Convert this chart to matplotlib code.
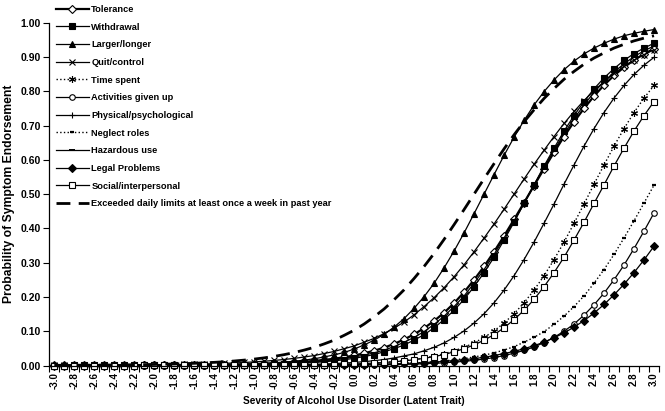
import matplotlib
matplotlib.use("Agg")
import matplotlib.pyplot as plt
from matplotlib.ticker import FixedLocator, FormatStrFormatter

plt.rcParams["font.family"] = ["Liberation Sans", "DejaVu Sans"]
plt.rcParams["font.weight"] = "bold"

# latent trait categories (-3.0 .. 3.0 by 0.1)
severity = [round(-3.0 + 0.1 * i, 1) for i in range(61)]

# probabilities, one value per category
tolerance = [0.0001, 0.0001, 0.0001, 0.0001, 0.0002, 0.0002, 0.0002, 0.0003, 0.0004, 0.0005,
             0.0006, 0.0007, 0.0008, 0.0010, 0.0012, 0.0015, 0.0018, 0.0022, 0.0027, 0.0033,
             0.0041, 0.0050, 0.0061, 0.0074, 0.0090, 0.0110, 0.0134, 0.0163, 0.0198, 0.0241,
             0.0293, 0.0356, 0.0431, 0.0521, 0.0630, 0.076, 0.091, 0.109, 0.130, 0.154,
             0.182, 0.214, 0.250, 0.289, 0.332, 0.378, 0.426, 0.475, 0.525, 0.574,
             0.622, 0.668, 0.711, 0.750, 0.786, 0.818, 0.846, 0.870, 0.891, 0.909, 0.924]
withdrawal = [0.0000, 0.0000, 0.0001, 0.0001, 0.0001, 0.0001, 0.0001, 0.0001, 0.0002, 0.0002,
              0.0003, 0.0003, 0.0004, 0.0005, 0.0006, 0.0008, 0.0010, 0.0012, 0.0015, 0.0019,
              0.0024, 0.0029, 0.0037, 0.0045, 0.0057, 0.0070, 0.0088, 0.0109, 0.0135, 0.0168,
              0.021, 0.026, 0.032, 0.040, 0.049, 0.060, 0.074, 0.090, 0.110, 0.134,
              0.161, 0.193, 0.230, 0.271, 0.316, 0.366, 0.418, 0.473, 0.527, 0.582,
              0.634, 0.684, 0.729, 0.770, 0.807, 0.839, 0.866, 0.890, 0.910, 0.926, 0.940]
larger_longer = [0.0001, 0.0001, 0.0001, 0.0001, 0.0001, 0.0002, 0.0002, 0.0003, 0.0003, 0.0004,
                 0.0005, 0.0006, 0.0008, 0.0010, 0.0013, 0.0016, 0.0020, 0.0025, 0.0032, 0.0040,
                 0.0050, 0.0063, 0.0079, 0.0100, 0.0125, 0.0157, 0.0196, 0.025, 0.031, 0.038,
                 0.048, 0.060, 0.074, 0.091, 0.112, 0.137, 0.167, 0.201, 0.240, 0.285,
                 0.334, 0.387, 0.443, 0.500, 0.557, 0.613, 0.666, 0.715, 0.760, 0.799,
                 0.833, 0.863, 0.888, 0.909, 0.926, 0.940, 0.952, 0.962, 0.969, 0.975, 0.980]
quit_control = [0.0003, 0.0004, 0.0005, 0.0005, 0.0006, 0.0008, 0.0009, 0.0011, 0.0013, 0.0015,
                0.0018, 0.0022, 0.0026, 0.0031, 0.0037, 0.0044, 0.0052, 0.0062, 0.0074, 0.0088,
                0.0105, 0.0124, 0.0148, 0.0175, 0.0208, 0.0247, 0.029, 0.035, 0.041, 0.049,
                0.057, 0.068, 0.079, 0.093, 0.109, 0.127, 0.148, 0.172, 0.198, 0.227,
                0.259, 0.294, 0.332, 0.372, 0.413, 0.456, 0.500, 0.544, 0.587, 0.628,
                0.668, 0.706, 0.741, 0.773, 0.802, 0.828, 0.852, 0.873, 0.891, 0.907, 0.921]
time_spent = [0, 0, 0, 0, 0, 0, 0, 0, 0, 0,
              0, 0.0001, 0.0001, 0.0001, 0.0001, 0.0001, 0.0002, 0.0002, 0.0003, 0.0004,
              0.0005, 0.0006, 0.0007, 0.0009, 0.0011, 0.0014, 0.0018, 0.0023, 0.0028, 0.0036,
              0.0045, 0.0056, 0.0071, 0.0089, 0.0112, 0.0140, 0.0175, 0.022, 0.028, 0.034,
              0.043, 0.053, 0.066, 0.082, 0.101, 0.124, 0.151, 0.183, 0.220, 0.262,
              0.309, 0.360, 0.415, 0.471, 0.529, 0.585, 0.640, 0.691, 0.738, 0.780, 0.817]
activities = [0, 0, 0, 0, 0, 0, 0, 0, 0, 0,
              0, 0, 0, 0, 0, 0, 0, 0.0001, 0.0001, 0.0001,
              0.0001, 0.0002, 0.0002, 0.0002, 0.0003, 0.0004, 0.0005, 0.0006, 0.0007, 0.0009,
              0.0011, 0.0014, 0.0017, 0.0021, 0.0026, 0.0033, 0.0041, 0.0051, 0.0063, 0.0078,
              0.0098, 0.0121, 0.0151, 0.0187, 0.023, 0.029, 0.036, 0.044, 0.054, 0.067,
              0.082, 0.100, 0.121, 0.147, 0.177, 0.211, 0.250, 0.293, 0.341, 0.392, 0.445]
physical = [0, 0, 0, 0, 0, 0, 0, 0, 0.0001, 0.0001,
            0.0001, 0.0001, 0.0001, 0.0002, 0.0002, 0.0003, 0.0004, 0.0005, 0.0006, 0.0007,
            0.0009, 0.0011, 0.0014, 0.0018, 0.0023, 0.0028, 0.0036, 0.0045, 0.0056, 0.0071,
            0.0089, 0.0112, 0.0140, 0.0175, 0.022, 0.028, 0.034, 0.043, 0.053, 0.066,
            0.082, 0.101, 0.124, 0.151, 0.183, 0.220, 0.262, 0.309, 0.360, 0.415,
            0.471, 0.529, 0.585, 0.640, 0.691, 0.738, 0.780, 0.817, 0.849, 0.876, 0.899]
neglect = [0, 0, 0, 0, 0, 0, 0, 0, 0, 0,
           0, 0, 0, 0.0001, 0.0001, 0.0001, 0.0001, 0.0001, 0.0002, 0.0002,
           0.0003, 0.0003, 0.0004, 0.0005, 0.0006, 0.0007, 0.0009, 0.0011, 0.0013, 0.0017,
           0.0020, 0.0025, 0.0031, 0.0038, 0.0047, 0.0058, 0.0071, 0.0088, 0.0108, 0.0133,
           0.0164, 0.020, 0.025, 0.030, 0.037, 0.045, 0.055, 0.068, 0.082, 0.099,
           0.120, 0.144, 0.172, 0.203, 0.240, 0.280, 0.324, 0.372, 0.422, 0.474, 0.526]
hazardous = [0.0000, 0.0001, 0.0001, 0.0001, 0.0001, 0.0001, 0.0002, 0.0002, 0.0003, 0.0003,
             0.0004, 0.0005, 0.0006, 0.0007, 0.0009, 0.0011, 0.0013, 0.0017, 0.0020, 0.0025,
             0.0031, 0.0038, 0.0047, 0.0058, 0.0071, 0.0088, 0.0108, 0.0133, 0.0164, 0.020,
             0.025, 0.030, 0.037, 0.045, 0.055, 0.068, 0.082, 0.099, 0.120, 0.144,
             0.172, 0.203, 0.240, 0.280, 0.324, 0.372, 0.422, 0.474, 0.526, 0.578,
             0.628, 0.676, 0.720, 0.760, 0.797, 0.828, 0.856, 0.880, 0.901, 0.918, 0.932]
legal = [0, 0, 0, 0, 0, 0, 0, 0, 0, 0.0001,
         0.0001, 0.0001, 0.0001, 0.0001, 0.0001, 0.0002, 0.0002, 0.0002, 0.0003, 0.0003,
         0.0004, 0.0005, 0.0006, 0.0007, 0.0008, 0.0010, 0.0012, 0.0014, 0.0017, 0.0020,
         0.0024, 0.0029, 0.0034, 0.0041, 0.0049, 0.0059, 0.0070, 0.0084, 0.0100, 0.0120,
         0.0143, 0.0171, 0.020, 0.024, 0.029, 0.035, 0.041, 0.049, 0.058, 0.068,
         0.081, 0.095, 0.112, 0.131, 0.153, 0.178, 0.206, 0.237, 0.271, 0.308, 0.348]
social = [0, 0, 0, 0, 0, 0, 0, 0, 0, 0.0001,
          0.0001, 0.0001, 0.0001, 0.0001, 0.0001, 0.0002, 0.0002, 0.0003, 0.0003, 0.0004,
          0.0005, 0.0006, 0.0008, 0.0010, 0.0012, 0.0015, 0.0019, 0.0024, 0.0029, 0.0037,
          0.0045, 0.0057, 0.0070, 0.0088, 0.0109, 0.0135, 0.0168, 0.021, 0.026, 0.032,
          0.040, 0.049, 0.060, 0.074, 0.090, 0.110, 0.134, 0.161, 0.193, 0.230,
          0.271, 0.316, 0.366, 0.418, 0.473, 0.527, 0.582, 0.634, 0.684, 0.729, 0.770]
exceeded = [0.0005, 0.0006, 0.0008, 0.0009, 0.0011, 0.0013, 0.0015, 0.0018, 0.0022, 0.0026,
            0.0031, 0.0038, 0.0045, 0.0054, 0.0064, 0.0077, 0.0092, 0.0110, 0.0131, 0.0157,
            0.0187, 0.0223, 0.0266, 0.0317, 0.0377, 0.045, 0.053, 0.063, 0.074, 0.088,
            0.103, 0.121, 0.142, 0.165, 0.192, 0.221, 0.254, 0.289, 0.327, 0.368,
            0.411, 0.455, 0.500, 0.545, 0.589, 0.632, 0.673, 0.711, 0.746, 0.779,
            0.808, 0.835, 0.858, 0.879, 0.897, 0.912, 0.926, 0.937, 0.947, 0.955, 0.962]

fig = plt.figure(figsize=(6.65, 4.11), dpi=100)
ax = fig.add_axes([49.3 / 665, 45.5 / 411, 609.7 / 665, 342.8 / 411])

common = dict(color="black", clip_on=False, markeredgewidth=0.8)
ax.plot(severity, tolerance, "-", lw=1.6, marker="D", ms=4, mfc="white", label="Tolerance", **common)
ax.plot(severity, withdrawal, "-", lw=0.9, marker="s", ms=4, mfc="black", label="Withdrawal", **common)
ax.plot(severity, larger_longer, "-", lw=0.9, marker="^", ms=4.5, mfc="black", label="Larger/longer", **common)
ax.plot(severity, quit_control, "-", lw=0.9, marker="x", ms=4, label="Quit/control", **common)
ax.plot(severity, time_spent, ":", lw=1.0, marker=(6, 2, 0), ms=5, label="Time spent", **common)
ax.plot(severity, activities, "-", lw=0.9, marker="o", ms=4, mfc="white", label="Activities given up", **common)
ax.plot(severity, physical, "-", lw=0.9, marker="+", ms=5, label="Physical/psychological", **common)
ax.plot(severity, neglect, ":", lw=1.0, marker="_", ms=3, markeredgewidth=1.6, color="black",
        clip_on=False, label="Neglect roles")
ax.plot(severity, hazardous, "-", lw=0.9, marker="_", ms=5, markeredgewidth=1.4, color="black",
        clip_on=False, label="Hazardous use")
ax.plot(severity, legal, "-", lw=0.9, marker="D", ms=4, mfc="black", label="Legal Problems", **common)
ax.plot(severity, social, "-", lw=0.9, marker="s", ms=4.5, mfc="white", label="Social/interpersonal", **common)
ax.plot(severity, exceeded, color="black", lw=2.0, dashes=(5, 3), clip_on=False,
        label="Exceeded daily limits at least once a week in past year")

ax.set_xlim(-3.05, 3.05)
ax.set_ylim(0, 1.0)
for s in ["top", "right"]:
    ax.spines[s].set_visible(False)
ax.spines["left"].set_linewidth(0.9)
ax.spines["bottom"].set_linewidth(0.9)

# x: labels every 0.2, tick marks between categories
ax.xaxis.set_major_locator(FixedLocator(severity[::2]))
ax.set_xticklabels(["%.1f" % v for v in severity[::2]], rotation=90, fontsize=7, fontweight="bold")
ax.xaxis.set_minor_locator(FixedLocator([round(-3.05 + 0.1 * i, 2) for i in range(62)]))
ax.tick_params(axis="x", which="major", length=0, pad=5)
ax.tick_params(axis="x", which="minor", length=4, width=0.8, direction="out")

ax.set_yticks([i / 10 for i in range(11)])
ax.yaxis.set_major_formatter(FormatStrFormatter("%.2f"))
ax.tick_params(axis="y", length=4, width=0.8, pad=2, labelsize=7.5)
for t in ax.get_yticklabels():
    t.set_fontweight("bold")

ax.set_xlabel("Severity of Alcohol Use Disorder (Latent Trait)", fontsize=7.3, fontweight="bold", labelpad=5)
ax.set_ylabel("Probability of Symptom Endorsement", fontsize=8.7, fontweight="bold", labelpad=4)

fig.legend(loc="upper left", bbox_to_anchor=(56 / 665, 1 - 5 / 411), frameon=False,
           prop={"weight": "bold", "size": 6.7}, handlelength=3.5, handletextpad=0.3,
           labelspacing=0.93, borderpad=0, borderaxespad=0)

fig.savefig("out.png", dpi=100)
